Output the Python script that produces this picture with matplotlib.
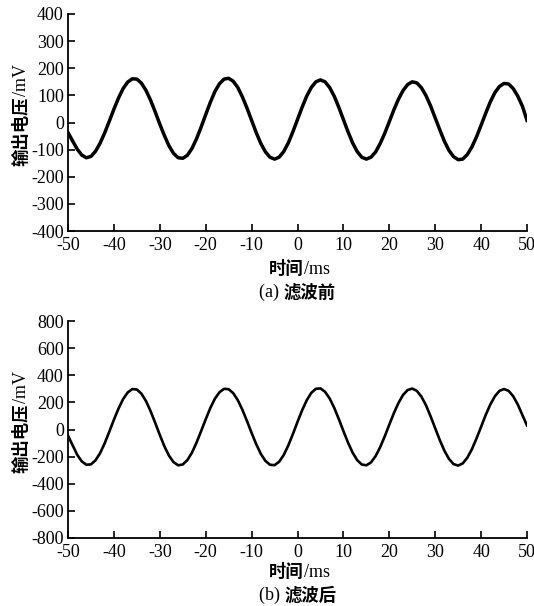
import matplotlib
matplotlib.use("Agg")
import matplotlib.pyplot as plt

plt.rcParams["axes.unicode_minus"] = False

# time axis (ms)
t_ms = list(range(-50, 51))

# (a) before filtering, mV
v_before = [
    -37, -68, -98, -120, -130, -125, -106, -76, -38, 5,
    49, 90, 125, 149, 161, 160, 145, 118, 82, 39,
    -6, -48, -86, -114, -130, -132, -121, -96, -60, -17,
    29, 74, 114, 143, 160, 163, 152, 129, 94, 53,
    8, -37, -77, -108, -128, -135, -128, -107, -75, -34,
    11, 56, 97, 129, 150, 157, 150, 129, 97, 56,
    11, -34, -75, -107, -128, -135, -128, -109, -78, -40,
    3, 47, 86, 118, 140, 150, 146, 128, 99, 61,
    17, -27, -69, -103, -126, -137, -135, -118, -90, -53,
    -10, 34, 76, 110, 133, 144, 142, 125, 97, 60,
    8,
]

# (b) after filtering, mV
v_after = [
    -45, -116, -186, -235, -260, -257, -227, -174, -101, -16,
    72, 154, 224, 273, 298, 295, 264, 209, 135, 49,
    -40, -124, -193, -241, -264, -258, -226, -171, -97, -12,
    75, 158, 227, 275, 300, 297, 268, 216, 145, 62,
    -25, -108, -179, -231, -260, -263, -238, -188, -117, -33,
    56, 141, 215, 270, 300, 303, 278, 229, 160, 77,
    -11, -96, -170, -226, -258, -264, -243, -197, -131, -51,
    36, 121, 196, 255, 291, 302, 285, 242, 178, 97,
    9, -78, -156, -217, -255, -266, -250, -208, -145, -66,
    20, 107, 184, 245, 285, 298, 285, 245, 184, 106,
    30,
]

x_ticks = [-50, -40, -30, -20, -10, 0, 10, 20, 30, 40, 50]
y_ticks_a = [-400, -300, -200, -100, 0, 100, 200, 300, 400]
y_ticks_b = [-800, -600, -400, -200, 0, 200, 400, 600, 800]

# label pieces: (text, is_cjk)
ylabel_parts = [("输出电压", True), ("/mV", False)]
xlabel_parts = [("时间", True), ("/ms", False)]
caption_a_parts = [("(a) ", False), ("滤波前", True)]
caption_b_parts = [("(b) ", False), ("滤波后", True)]

W, H = 534, 606
fig = plt.figure(figsize=(W / 100, H / 100), dpi=100)
renderer = fig.canvas.get_renderer()

SERIF = ["Liberation Serif", "DejaVu Serif"]
CJK = ["Noto Sans CJK SC", "DejaVu Sans"]
SERIF_SIZE = 13
CJK_SIZE = 12.5


def piece_style(is_cjk):
    if is_cjk:
        return dict(family=CJK, fontsize=CJK_SIZE, fontweight="bold")
    return dict(family=SERIF, fontsize=SERIF_SIZE, fontweight="normal")


def piece_width(text, is_cjk):
    t = fig.text(0, 0, text, **piece_style(is_cjk))
    w = t.get_window_extent(renderer=renderer).width
    t.remove()
    return w


def hlabel(parts, cx_px, base_px):
    widths = [piece_width(s, c) for s, c in parts]
    x = cx_px - sum(widths) / 2
    for (s, c), w in zip(parts, widths):
        fig.text(x / W, 1 - base_px / H, s, ha="left", va="baseline",
                 **piece_style(c))
        x += w


def vlabel(parts, base_x_px, cy_px):
    widths = [piece_width(s, c) for s, c in parts]
    y = cy_px + sum(widths) / 2  # bottom start in pixels from top
    for (s, c), w in zip(parts, widths):
        fig.text(base_x_px / W, 1 - y / H, s, ha="left", va="baseline",
                 rotation=90, rotation_mode="anchor", **piece_style(c))
        y -= w


def make_axes(top_px, yticks, values, lw):
    left_px, right_px, h_px = 68, 527, 217
    ax = fig.add_axes([left_px / W, 1 - (top_px + h_px) / H,
                       (right_px - left_px) / W, h_px / H])
    ax.plot(t_ms, values, color="black", lw=lw, solid_joinstyle="round")
    ax.set_xlim(-50, 50)
    ax.set_ylim(yticks[0], yticks[-1])
    ax.set_xticks(x_ticks)
    ax.set_yticks(yticks)
    for s in ["top", "right"]:
        ax.spines[s].set_visible(False)
    for s in ["left", "bottom"]:
        ax.spines[s].set_linewidth(1.3)
    ax.tick_params(direction="in", length=5, width=1.2, labelsize=SERIF_SIZE,
                   colors="black")
    ax.tick_params(axis="x", pad=4.5)
    ax.tick_params(axis="y", pad=3)
    for lab in ax.get_xticklabels() + ax.get_yticklabels():
        lab.set_fontfamily(SERIF)
    return ax


ax1 = make_axes(14, y_ticks_a, v_before, 2.5)
ax2 = make_axes(321, y_ticks_b, v_after, 1.9)

cx = (68 + 527) / 2
vlabel(ylabel_parts, 26, 115)
vlabel(ylabel_parts, 26, 422)
hlabel(xlabel_parts, cx + 2, 274)
hlabel(caption_a_parts, cx, 297)
hlabel(xlabel_parts, cx + 2, 577)
hlabel(caption_b_parts, cx, 600)

fig.savefig("out.png", dpi=100)
